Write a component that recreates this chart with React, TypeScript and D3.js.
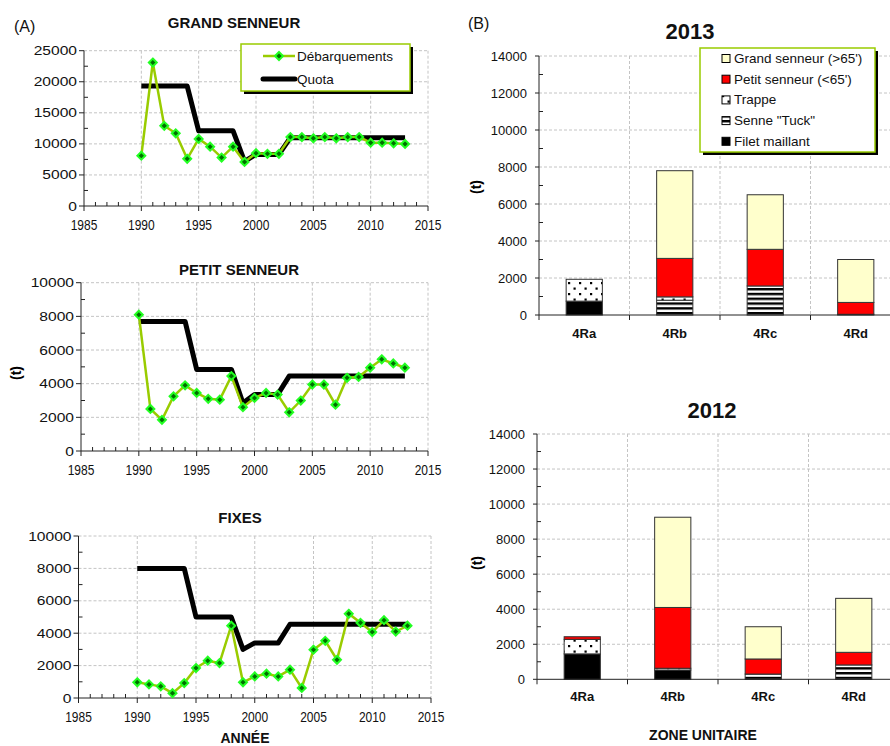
import React, { useRef, useEffect } from 'react';
import * as d3 from 'd3';

const FONT = '"Liberation Sans", Arial, sans-serif';

// (A) landings and quotas, 1990-2013
const years = d3.range(1990, 2014);

const grandLandings = [8100, 23100, 12900, 11700, 7600, 10800, 9550, 7800, 9550, 7100, 8500, 8400, 8400, 11100, 11100, 10900, 11100, 10900, 11100, 11100, 10200, 10200, 10100, 10000];
const grandQuota = [19300, 19300, 19300, 19300, 19300, 12100, 12100, 12100, 12100, 7200, 8300, 8300, 8300, 11000, 11000, 11000, 11000, 11000, 11000, 11000, 11000, 11000, 11000, 11000];

const petitLandings = [8100, 2500, 1850, 3250, 3900, 3450, 3100, 3050, 4450, 2600, 3150, 3450, 3350, 2300, 3000, 3950, 3950, 2750, 4350, 4400, 4950, 5450, 5200, 4950];
const petitQuota = [7700, 7700, 7700, 7700, 7700, 4850, 4850, 4850, 4850, 2850, 3350, 3350, 3350, 4450, 4450, 4450, 4450, 4450, 4450, 4450, 4450, 4450, 4450, 4450];

const fixesLandings = [970, 840, 720, 300, 920, 1850, 2300, 2160, 4460, 970, 1330, 1500, 1330, 1750, 620, 2980, 3530, 2360, 5200, 4640, 4070, 4800, 4100, 4460];
const fixesQuota = [8000, 8000, 8000, 8000, 8000, 5000, 5000, 5000, 5000, 3000, 3400, 3400, 3400, 4550, 4550, 4550, 4550, 4550, 4550, 4550, 4550, 4550, 4550, 4550];

// (B) landings by unit area and gear
const zones = ['4Ra', '4Rb', '4Rc', '4Rd'];
const gears = ['filet', 'senne', 'trappe', 'petit', 'grand'];
const legendOrder = ['grand', 'petit', 'trappe', 'senne', 'filet'];
const gearLabels = {
  grand: "Grand senneur (>65')",
  petit: "Petit senneur (<65')",
  trappe: 'Trappe',
  senne: 'Senne "Tuck"',
  filet: 'Filet maillant',
};

const filet2013 = [750, 0, 0, 40];
const senne2013 = [0, 800, 1570, 0];
const trappe2013 = [1180, 180, 0, 0];
const petit2013 = [0, 2080, 1980, 640];
const grand2013 = [0, 4740, 2950, 2320];

const filet2012 = [1450, 530, 0, 0];
const senne2012 = [0, 0, 300, 820];
const trappe2012 = [830, 100, 0, 0];
const petit2012 = [150, 3470, 860, 720];
const grand2012 = [0, 5150, 1840, 3080];

const fills = {
  filet: '#000000',
  senne: 'url(#stripes)',
  trappe: 'url(#dots)',
  petit: '#ff0000',
  grand: '#ffffcc',
};

function rows(filet, senne, trappe, petit, grand) {
  return zones.map((zone, i) => ({
    zone,
    filet: filet[i],
    senne: senne[i],
    trappe: trappe[i],
    petit: petit[i],
    grand: grand[i],
  }));
}

function stretchedText(g, x, y, text, opts) {
  g.append('text')
    .attr('transform', `translate(${x},${y}) scale(${opts.sx || 1},1)`)
    .attr('text-anchor', opts.anchor || 'middle')
    .attr('font-family', FONT)
    .attr('font-size', opts.size)
    .attr('font-weight', opts.bold ? 'bold' : 'normal')
    .attr('fill', '#111')
    .text(text);
}

function linePanel(svg, p) {
  const x = d3.scaleLinear().domain([1985, 2015]).range([p.left, p.right]);
  const y = d3.scaleLinear().domain([0, p.max]).range([p.bottom, p.top]);
  const g = svg.append('g');

  const majorY = d3.range(0, p.max + 1, p.step);
  const minorY = d3.range(p.step / 2, p.max, p.step);
  const majorX = d3.range(1985, 2016, 5);
  const minorX = d3.range(1985, 2016).filter((v) => v % 5 !== 0);

  g.selectAll('.gy').data(majorY.slice(1)).join('line')
    .attr('x1', p.left).attr('x2', p.right)
    .attr('y1', (d) => y(d)).attr('y2', (d) => y(d))
    .attr('stroke', '#c4c4c4').attr('stroke-dasharray', '3,2');
  g.selectAll('.gx').data(majorX.slice(1)).join('line')
    .attr('x1', (d) => x(d)).attr('x2', (d) => x(d))
    .attr('y1', p.top).attr('y2', p.bottom)
    .attr('stroke', '#c4c4c4').attr('stroke-dasharray', '3,2');

  // axes
  g.append('line').attr('x1', p.left).attr('x2', p.left).attr('y1', p.top).attr('y2', p.bottom).attr('stroke', '#222');
  g.append('line').attr('x1', p.left).attr('x2', p.right).attr('y1', p.bottom).attr('y2', p.bottom).attr('stroke', '#222');
  g.selectAll('.ty').data(majorY).join('line')
    .attr('x1', p.left - 5).attr('x2', p.left)
    .attr('y1', (d) => y(d)).attr('y2', (d) => y(d)).attr('stroke', '#222');
  g.selectAll('.tmy').data(minorY).join('line')
    .attr('x1', p.left).attr('x2', p.left + 4)
    .attr('y1', (d) => y(d)).attr('y2', (d) => y(d)).attr('stroke', '#222');
  g.selectAll('.tx').data(majorX).join('line')
    .attr('x1', (d) => x(d)).attr('x2', (d) => x(d))
    .attr('y1', p.bottom).attr('y2', p.bottom + 5).attr('stroke', '#222');
  g.selectAll('.tmx').data(minorX).join('line')
    .attr('x1', (d) => x(d)).attr('x2', (d) => x(d))
    .attr('y1', p.bottom - 4).attr('y2', p.bottom).attr('stroke', '#222');

  majorY.forEach((v) => stretchedText(g, p.left - 7, y(v) + 4.5, String(v), { size: 13, sx: 1.2, anchor: 'end' }));
  majorX.forEach((v) => stretchedText(g, x(v), p.bottom + 24, String(v), { size: 15, sx: 0.8 }));

  stretchedText(g, p.titleX, p.titleY, p.title, { size: 15, bold: true });

  const line = d3.line().x((d, i) => x(years[i])).y((d) => y(d));

  g.append('path').datum(p.quota)
    .attr('fill', 'none').attr('stroke', '#000').attr('stroke-width', 5)
    .attr('stroke-linejoin', 'round').attr('d', line);
  g.append('path').datum(p.landings)
    .attr('fill', 'none').attr('stroke', '#99cc00').attr('stroke-width', 2.5)
    .attr('d', line);
  const diamond = d3.symbol().type(d3.symbolDiamond2).size(40);
  g.selectAll('.pt').data(p.landings).join('path')
    .attr('transform', (d, i) => `translate(${x(years[i])},${y(d)})`)
    .attr('d', diamond)
    .attr('fill', '#006e00').attr('stroke', '#22ff22').attr('stroke-width', 2);
}

function barPanel(svg, p) {
  const data = rows(...p.series);
  const stack = d3.stack().keys(gears)(data);
  const x = d3.scaleBand().domain(zones).range([p.left, p.right]).paddingInner(0.6).paddingOuter(0.3);
  const y = d3.scaleLinear().domain([0, 14000]).range([p.bottom, p.top]);
  const step = x.step();
  const g = svg.append('g');

  const majorY = d3.range(0, 14001, 2000);
  const minorY = d3.range(1000, 14000, 2000);
  const bounds = d3.range(0, zones.length + 1).map((i) => p.left + i * step);

  g.selectAll('.gy').data(majorY.slice(1)).join('line')
    .attr('x1', p.left).attr('x2', p.right)
    .attr('y1', (d) => y(d)).attr('y2', (d) => y(d))
    .attr('stroke', '#c4c4c4').attr('stroke-dasharray', '3,2');
  g.selectAll('.gx').data(bounds.slice(1)).join('line')
    .attr('x1', (d) => d).attr('x2', (d) => d)
    .attr('y1', p.top).attr('y2', p.bottom)
    .attr('stroke', '#c4c4c4').attr('stroke-dasharray', '3,2');

  stack.forEach((layer) => {
    g.selectAll(null).data(layer.filter((d) => d[1] - d[0] > 0)).join('rect')
      .attr('x', (d) => x(d.data.zone))
      .attr('width', x.bandwidth())
      .attr('y', (d) => y(d[1]))
      .attr('height', (d) => y(d[0]) - y(d[1]))
      .attr('fill', fills[layer.key])
      .attr('stroke', '#333').attr('stroke-width', 1);
  });

  g.append('line').attr('x1', p.left).attr('x2', p.left).attr('y1', p.top).attr('y2', p.bottom).attr('stroke', '#222');
  g.append('line').attr('x1', p.left).attr('x2', p.right).attr('y1', p.bottom).attr('y2', p.bottom).attr('stroke', '#222');
  g.selectAll('.ty').data(majorY).join('line')
    .attr('x1', p.left - 4).attr('x2', p.left)
    .attr('y1', (d) => y(d)).attr('y2', (d) => y(d)).attr('stroke', '#222');
  g.selectAll('.tmy').data(minorY).join('line')
    .attr('x1', p.left).attr('x2', p.left + 4)
    .attr('y1', (d) => y(d)).attr('y2', (d) => y(d)).attr('stroke', '#222');
  g.selectAll('.tx').data(bounds).join('line')
    .attr('x1', (d) => d).attr('x2', (d) => d)
    .attr('y1', p.bottom).attr('y2', p.bottom + 5).attr('stroke', '#222');

  majorY.forEach((v) => stretchedText(g, p.left - 12, y(v) + 4.5, String(v), { size: 13, anchor: 'end' }));
  zones.forEach((z) => stretchedText(g, x(z) + x.bandwidth() / 2, p.catY, z, { size: 13, bold: true }));

  stretchedText(g, p.titleX, p.titleY, p.title, { size: 22, bold: true });
}

function App() {
  const svgRef = useRef(null);

  useEffect(() => {
    const svg = d3.select(svgRef.current);
    svg.selectAll('*').remove();

    const defs = svg.append('defs');
    const dots = defs.append('pattern').attr('id', 'dots')
      .attr('patternUnits', 'userSpaceOnUse').attr('width', 11).attr('height', 11);
    dots.append('rect').attr('width', 11).attr('height', 11).attr('fill', '#fff');
    dots.append('rect').attr('x', 1.5).attr('y', 1.5).attr('width', 2.2).attr('height', 2.2).attr('fill', '#000');
    dots.append('rect').attr('x', 7).attr('y', 7).attr('width', 2.2).attr('height', 2.2).attr('fill', '#000');
    const stripes = defs.append('pattern').attr('id', 'stripes')
      .attr('patternUnits', 'userSpaceOnUse').attr('width', 8).attr('height', 4.8);
    stripes.append('rect').attr('width', 8).attr('height', 4.8).attr('fill', '#fff');
    stripes.append('rect').attr('width', 8).attr('height', 2.4).attr('fill', '#000');

    svg.append('rect').attr('width', 890).attr('height', 746).attr('fill', '#fff');

    linePanel(svg, { left: 84, right: 428, top: 50.7, bottom: 206, max: 25000, step: 5000, title: 'GRAND SENNEUR', titleX: 234, titleY: 28, landings: grandLandings, quota: grandQuota });
    linePanel(svg, { left: 81, right: 428, top: 282.7, bottom: 451, max: 10000, step: 2000, title: 'PETIT SENNEUR', titleX: 239, titleY: 275, landings: petitLandings, quota: petitQuota });
    linePanel(svg, { left: 78.5, right: 431, top: 536, bottom: 698, max: 10000, step: 2000, title: 'FIXES', titleX: 240, titleY: 523, landings: fixesLandings, quota: fixesQuota });

    barPanel(svg, { left: 539, right: 901, top: 56, bottom: 315, title: '2013', titleX: 690, titleY: 39, catY: 338, series: [filet2013, senne2013, trappe2013, petit2013, grand2013] });
    barPanel(svg, { left: 537, right: 899, top: 434, bottom: 679.3, title: '2012', titleX: 712, titleY: 418, catY: 701, series: [filet2012, senne2012, trappe2012, petit2012, grand2012] });

    // panel tags and axis titles
    stretchedText(svg, 14, 32, '(A)', { size: 16, anchor: 'start' });
    stretchedText(svg, 468, 29, '(B)', { size: 16, anchor: 'start' });
    stretchedText(svg, 245, 743, 'ANNÉE', { size: 14, bold: true });
    stretchedText(svg, 703, 740, 'ZONE UNITAIRE', { size: 14, bold: true });
    [[16, 373], [476, 187], [477, 563]].forEach(([tx, ty]) => {
      svg.append('text')
        .attr('transform', `translate(${tx + 5},${ty}) rotate(-90)`)
        .attr('text-anchor', 'middle')
        .attr('font-family', FONT).attr('font-size', 14).attr('font-weight', 'bold')
        .text('(t)');
    });

    // legend (A)
    const la = svg.append('g');
    la.append('rect').attr('x', 244).attr('y', 47).attr('width', 169).attr('height', 47).attr('fill', '#000');
    la.append('rect').attr('x', 241).attr('y', 44).attr('width', 169).attr('height', 47)
      .attr('fill', '#fff').attr('stroke', '#99cc00').attr('stroke-width', 1.5);
    la.append('line').attr('x1', 263).attr('x2', 295).attr('y1', 56).attr('y2', 56).attr('stroke', '#99cc00').attr('stroke-width', 2.5);
    la.append('path').attr('transform', 'translate(279,56)').attr('d', d3.symbol().type(d3.symbolDiamond2).size(40))
      .attr('fill', '#006e00').attr('stroke', '#22ff22').attr('stroke-width', 2);
    la.append('line').attr('x1', 263).attr('x2', 295).attr('y1', 79).attr('y2', 79).attr('stroke', '#000').attr('stroke-width', 5).attr('stroke-linecap', 'round');
    stretchedText(la, 297, 60.5, 'Débarquements', { size: 13.5, anchor: 'start' });
    stretchedText(la, 297, 84, 'Quota', { size: 13.5, anchor: 'start' });

    // legend (B)
    const lb = svg.append('g');
    lb.append('rect').attr('x', 703).attr('y', 51).attr('width', 175).attr('height', 104).attr('fill', '#000');
    lb.append('rect').attr('x', 700).attr('y', 48).attr('width', 175).attr('height', 104)
      .attr('fill', '#fff').attr('stroke', '#99cc00').attr('stroke-width', 1.5);
    legendOrder.forEach((k, i) => {
      const cy = 58.5 + i * 20.7;
      lb.append('rect').attr('x', 722).attr('y', cy - 4).attr('width', 8).attr('height', 8)
        .attr('fill', fills[k]).attr('stroke', '#000').attr('stroke-width', 1);
      stretchedText(lb, 734, cy + 4.5, gearLabels[k], { size: 13.5, anchor: 'start' });
    });
  }, []);

  return (
    <svg
      ref={svgRef}
      width={890}
      height={746}
      style={{ position: 'absolute', left: 0, top: 0 }}
    />
  );
}

export default App;
